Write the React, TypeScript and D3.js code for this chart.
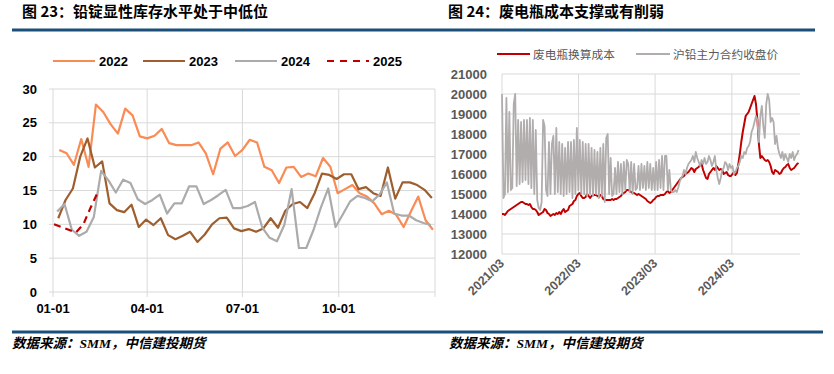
import React from "react";
import * as d3 from "d3";

// ---------- Left chart data (weekly inventory, 10k t) ----------
const leftTitle = "图 23：铅锭显性库存水平处于中低位";
const rightTitle = "图 24：废电瓶成本支撑或有削弱";
const sourceText = "数据来源：SMM，中信建投期货";

const yearNames = ["2022", "2023", "2024", "2025"];
const yearStarts = ["2022-01-07", "2023-01-06", "2024-01-05", "2025-01-02"];
const inv2022 = [21.0, 20.5, 18.8, 22.6, 18.5, 27.7, 26.6, 24.8, 23.4, 27.1, 26.1, 23.0, 22.7, 23.1, 24.1, 22.0, 21.7,
  21.7, 21.7, 22.1, 20.5, 17.4, 21.2, 22.1, 20.1, 21.0, 22.5, 22.1, 18.5, 18.0, 16.1, 18.4, 18.5, 17.0,
  17.5, 17.1, 19.8, 18.5, 14.6, 15.2, 15.8, 14.6, 14.1, 13.1, 11.5, 12.0, 11.4, 9.6, 11.9, 14.1, 10.6, 9.2];
const inv2023 = [10.9, 13.6, 15.3, 20.0, 22.7, 18.4, 19.3, 13.1, 12.1, 11.8, 12.9, 9.6, 10.7, 9.9, 10.9, 8.4, 7.8,
  8.3, 8.9, 7.4, 8.5, 10.0, 10.9, 11.0, 9.4, 9.0, 9.3, 8.9, 9.4, 10.9, 9.5, 12.0, 13.0, 13.3, 12.4,
  14.6, 17.5, 17.3, 16.7, 17.4, 17.4, 15.2, 15.5, 14.6, 14.2, 18.4, 13.8, 16.2, 16.2, 15.8, 15.1, 13.9];
const inv2024 = [11.9, 13.0, 9.2, 8.3, 8.9, 11.1, 17.9, 16.5, 14.7, 16.6, 16.1, 13.7, 13.0, 13.6, 14.4, 11.6, 13.1,
  13.1, 15.6, 15.6, 13.0, 13.6, 14.3, 15.1, 12.4, 12.4, 12.7, 13.3, 9.5, 8.0, 7.5, 9.9, 15.2, 6.5, 6.5,
  9.2, 12.5, 15.3, 9.6, 11.5, 13.4, 14.2, 13.9, 13.4, 14.4, 16.2, 11.6, 11.3, 11.3, 10.6, 10.2, 9.9];
const inv2025 = [10.0, 9.6, 9.2, 8.8, 10.0, 12.5, 14.8];
const leftYTicks = [0, 5, 10, 15, 20, 25, 30];
const leftXTicks = ["01-01", "04-01", "07-01", "10-01"];

// ---------- Right chart data (weekly, yuan/t) ----------
const rightStart = "2021-03-01";
const rightEnd = "2025-01-20";
const seriesNames = ["废电瓶换算成本", "沪铅主力合约收盘价"];
const scrapCost = [14000, 14000, 13950, 14050, 14150, 14200, 14250, 14300, 14350, 14400, 14450, 14500, 14550, 14600, 14600, 14550, 14500, 14500, 14450, 14500,
  14350, 14250, 14250, 14200, 14100, 13950, 14000, 14050, 14100, 14250, 14200, 14050, 14000, 13900, 13950, 14000, 13950, 14050, 14000, 14100,
  14000, 14150, 14250, 14100, 14150, 14200, 14400, 14450, 14500, 14650, 14700, 14900, 15000, 15050, 14900, 14800, 14800, 14850, 15000, 14900,
  14800, 14900, 14950, 14950, 14950, 14900, 14850, 14950, 14900, 14750, 14700, 14700, 14700, 14700, 14700, 14750, 14700, 14750, 14750, 14800,
  14850, 14900, 15000, 15050, 15100, 15200, 15200, 15150, 15100, 15050, 15050, 15000, 14950, 15000, 14950, 14900, 14850, 14800, 14750, 14650,
  14600, 14550, 14600, 14700, 14750, 14850, 14900, 14900, 14950, 14950, 14950, 15000, 15100, 15150, 15050, 15100, 15200, 15300, 15400, 15500,
  15600, 15700, 15800, 15850, 15900, 16000, 16050, 16100, 16200, 16300, 16250, 16100, 16250, 16300, 16350, 16450, 16500, 16200, 16000, 15800,
  15750, 16000, 16100, 16200, 16300, 16200, 16400, 16300, 16200, 16250, 16200, 16000, 16050, 16100, 15950, 15900, 15900, 16000, 16100, 15950,
  16050, 16500, 17000, 17600, 18100, 18500, 18900, 19000, 19100, 19300, 19500, 19700, 19900, 19500, 18700, 17500, 16800, 16900, 16800, 16700,
  16650, 16700, 16600, 16400, 16100, 16000, 16200, 16150, 16100, 16000, 16050, 16200, 16300, 16350, 16450, 16500, 16300, 16200, 16250, 16300,
  16400, 16500, 16550];
const leadClose = [20000, 14800, 15000, 19800, 15100, 19100, 15200, 15300, 19500, 20000, 15400, 18700, 15500, 18600, 15600, 18700, 15700, 18700, 15500, 18800,
  15300, 18700, 15000, 18200, 14700, 14300, 14200, 14600, 18700, 18400, 15200, 14900, 17600, 15000, 17500, 17900, 15000, 18300, 15100, 17600,
  15000, 17500, 14900, 17300, 15000, 17600, 15100, 17600, 14800, 17700, 15000, 18300, 15200, 17700, 15000, 17600, 15000, 17500, 14900, 17500,
  15000, 17300, 14900, 17200, 15000, 17100, 14800, 17300, 14900, 17500, 14600, 17800, 18000, 15000, 16800, 14900, 15000, 16300, 15000, 16600,
  15100, 16500, 15000, 16600, 15200, 16700, 16500, 15100, 16600, 15000, 16500, 15200, 15300, 16400, 15200, 16500, 15300, 16400, 15200, 16600,
  15300, 16500, 15200, 16300, 15200, 16600, 15200, 16700, 15300, 16900, 15200, 16900, 16900, 15200, 16200, 15200, 15100, 15100, 15200, 15100,
  15300, 15600, 15800, 15900, 16200, 16000, 16300, 16500, 16600, 16700, 16900, 16600, 17100, 16800, 16600, 16400, 16700, 16500, 16800, 16500,
  16600, 16900, 16700, 16400, 16600, 16900, 16200, 15800, 15500, 15800, 16200, 16300, 16600, 16500, 16200, 16500, 16300, 16400, 16000, 16100,
  16300, 16400, 16600, 16900, 16800, 17100, 17000, 17300, 17400, 17600, 18100, 18300, 18600, 18900, 18700, 17600, 18900, 19400, 18400, 17800,
  19500, 20000, 19700, 18600, 18800, 18600, 17500, 17900, 17300, 17000, 16800, 17100, 16700, 17000, 16800, 16600, 17000, 16800, 17100, 16700,
  16900, 17000, 17200];
const rightYTicks = [12000, 13000, 14000, 15000, 16000, 17000, 18000, 19000, 20000, 21000];
const rightXTicks = ["2021-03-01", "2022-03-01", "2023-03-01", "2024-03-01"];

const yearColors = ["#F98B55", "#9E5E2E", "#ABABAB", "#C00000"];
const RED = "#C00000";
const GRAY = "#B1ADAD";
const BLUE = "#1B4F7A";
const GRID = "#D9D9D9";
const CJK = "'Noto Sans CJK SC', 'Liberation Sans', sans-serif";
const NUM = "'Liberation Sans', Arial, 'Noto Sans CJK SC', sans-serif";
const FOOT = "'Liberation Serif', 'Noto Sans CJK SC', serif";

const parse = d3.timeParse("%Y-%m-%d");

function weeklyPoints(start: string, values: number[]) {
  const s = parse(start) as Date;
  return values.map((v, i) => ({ date: d3.timeDay.offset(s, 7 * i), v }));
}

export default function App() {
  // ---------- Left chart scales ----------
  const lx = d3.scaleLinear().domain([0, 365]).range([53, 435]);
  const ly = d3.scaleLinear().domain([0, 30]).range([292, 89]);
  const dayOfYear = (d: Date) => d3.timeDay.count(d3.timeYear(d), d);
  const leftSeries = [inv2022, inv2023, inv2024, inv2025].map((vals, k) =>
    weeklyPoints(yearStarts[k], vals)
  );
  const lline = d3
    .line<{ date: Date; v: number }>()
    .x((p) => lx(dayOfYear(p.date)))
    .y((p) => ly(p.v));
  const leftTickDays = leftXTicks.map((t) => dayOfYear(parse("2021-" + t) as Date));
  const leftGridDays = [...leftTickDays, 365];

  // ---------- Right chart scales ----------
  const rx = d3
    .scaleTime()
    .domain([parse(rightStart) as Date, parse(rightEnd) as Date])
    .range([502, 800]);
  const ry = d3.scaleLinear().domain([12000, 21000]).range([254, 74]);
  const rline = d3
    .line<{ date: Date; v: number }>()
    .x((p) => rx(p.date))
    .y((p) => ry(p.v));
  const costPts = weeklyPoints(rightStart, scrapCost);
  const closePts = weeklyPoints(rightStart, leadClose);
  const rTickDates = rightXTicks.map((t) => parse(t) as Date);
  const fmt = d3.timeFormat("%Y/%m");

  const legendX = [53, 143, 235, 327];

  return (
    <svg width={834} height={374} style={{ position: "absolute", left: 0, top: 0, background: "#fff" }}>
      <rect x={0} y={0} width={834} height={374} fill="#fff" />
      {/* Titles */}
      <text x={22} y={17} fontFamily={CJK} fontWeight="bold" fontSize={15} fill="#000">{leftTitle}</text>
      <text x={448} y={17} fontFamily={CJK} fontWeight="bold" fontSize={15} fill="#000">{rightTitle}</text>
      <line x1={12} x2={815} y1={30} y2={30} stroke={BLUE} strokeWidth={3} />
      <line x1={12} x2={823} y1={332} y2={332} stroke={BLUE} strokeWidth={3} />
      <text x={12} y={348} fontFamily={FOOT} fontStyle="italic" fontWeight="bold" fontSize={13.5} fill="#000">{sourceText}</text>
      <text x={449} y={348} fontFamily={FOOT} fontStyle="italic" fontWeight="bold" fontSize={13.5} fill="#000">{sourceText}</text>

      {/* ---------- Left chart ---------- */}
      {leftYTicks.map((t) => (
        <g key={"lg" + t}>
          <line x1={49} x2={435} y1={ly(t)} y2={ly(t)} stroke={GRID} strokeWidth={1} />
          <text x={37} y={ly(t) + 4.5} textAnchor="end" fontFamily={NUM} fontWeight="bold" fontSize={13} fill="#000">{t}</text>
        </g>
      ))}
      {leftGridDays.map((d, i) => (
        <line key={"lv" + i} x1={lx(d)} x2={lx(d)} y1={ly(30)} y2={297} stroke={GRID} strokeWidth={1} />
      ))}
      {leftXTicks.map((t, i) => (
        <text key={"lx" + t} x={lx(leftTickDays[i])} y={313} textAnchor="middle" fontFamily={NUM} fontWeight="bold" fontSize={13} fill="#000">{t}</text>
      ))}
      {leftSeries.map((pts, k) => (
        <path key={"ls" + k} d={lline(pts) || ""} fill="none" stroke={yearColors[k]} strokeWidth={2.2}
          strokeDasharray={k === 3 ? "7,5" : undefined} strokeLinejoin="round" />
      ))}
      {yearNames.map((n, k) => (
        <g key={"leg" + n}>
          <line x1={legendX[k]} x2={legendX[k] + 42} y1={61} y2={61} stroke={yearColors[k]} strokeWidth={2.2}
            strokeDasharray={k === 3 ? "7,6" : undefined} />
          <text x={legendX[k] + 46} y={65.5} fontFamily={NUM} fontWeight="bold" fontSize={13} fill="#000">{n}</text>
        </g>
      ))}

      {/* ---------- Right chart ---------- */}
      {rightYTicks.map((t) => (
        <g key={"rg" + t}>
          <line x1={502} x2={800} y1={ry(t)} y2={ry(t)} stroke={GRID} strokeWidth={1} />
          <text x={487} y={ry(t) + 4.5} textAnchor="end" fontFamily={NUM} fontWeight="bold" fontSize={13} fill="#595959">{t}</text>
        </g>
      ))}
      {rTickDates.map((d, i) => (
        <g key={"rv" + i}>
          <line x1={rx(d)} x2={rx(d)} y1={ry(21000)} y2={ry(12000)} stroke={GRID} strokeWidth={1} />
          <text transform={`translate(${rx(d) + 3},${ry(12000) + 10}) rotate(-45)`} textAnchor="end"
            fontFamily={NUM} fontWeight="bold" fontSize={12.5} fill="#595959">{fmt(d)}</text>
        </g>
      ))}
      <path d={rline(costPts) || ""} fill="none" stroke={RED} strokeWidth={2} strokeLinejoin="round" />
      <path d={rline(closePts) || ""} fill="none" stroke={GRAY} strokeWidth={1.8} strokeLinejoin="round" />
      <line x1={497} x2={530} y1={54} y2={54} stroke={RED} strokeWidth={2} />
      <text x={533} y={58.5} fontFamily={CJK} fontSize={11.7} fill="#595959">{seriesNames[0]}</text>
      <line x1={636} x2={670} y1={54} y2={54} stroke={GRAY} strokeWidth={2} />
      <text x={673} y={58.5} fontFamily={CJK} fontSize={11.7} fill="#595959">{seriesNames[1]}</text>
    </svg>
  );
}
